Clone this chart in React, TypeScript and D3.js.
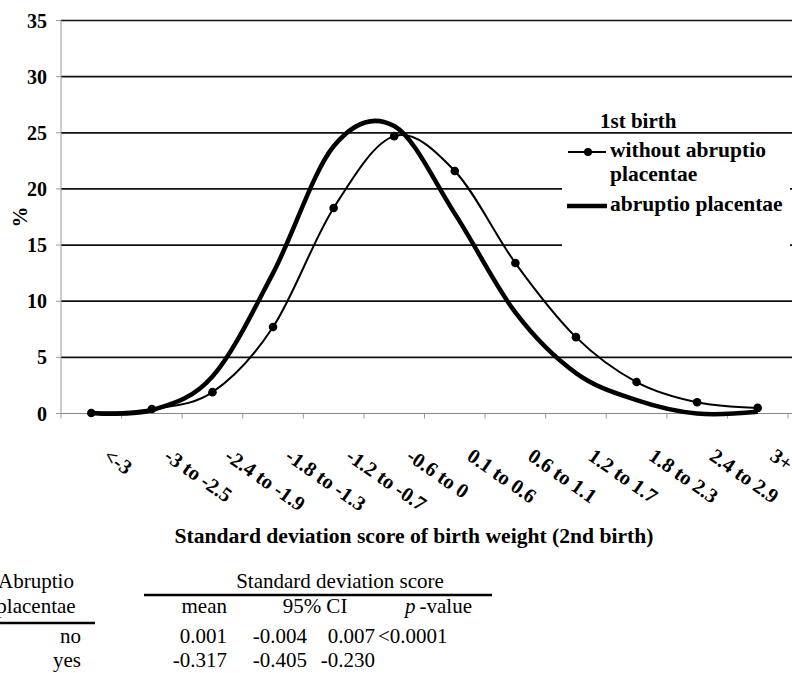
import React from "react";
import * as d3 from "d3";

const categories = ["<-3", "-3 to -2.5", "-2.4 to -1.9", "-1.8 to -1.3", "-1.2 to -0.7", "-0.6 to 0", "0.1 to 0.6", "0.6 to 1.1", "1.2 to 1.7", "1.8 to 2.3", "2.4 to 2.9", "3+"];
const withoutAP = [0.05, 0.4, 1.9, 7.7, 18.3, 24.7, 21.6, 13.4, 6.8, 2.8, 1.0, 0.5];
const withAP = [0.05, 0.3, 3.3, 12.5, 23.8, 25.6, 17.8, 9.0, 3.6, 1.2, 0.0, 0.15];
const yTicks = [0, 5, 10, 15, 20, 25, 30, 35];

const legendTitle = "1st birth";
const seriesNames = ["without abruptio", "placentae", "abruptio placentae"];
const xTitle = "Standard deviation score of birth weight (2nd birth)";

const tableHeadLeft = ["Abruptio", "placentae"];
const tableGroupTitle = "Standard deviation score";
const tableRowLabels = ["no", "yes"];
const tableMeans = ["0.001", "-0.317"];
const tableCILow = ["-0.004", "-0.405"];
const tableCIHigh = ["0.007", "-0.230"];
const tablePValues = ["<0.0001", ""];

const serif = "'Liberation Serif', 'Times New Roman', serif";

export default function App() {
  const W = 792, H = 673;
  const x = d3.scaleBand<string>().domain(categories).range([61, 788]);
  const y = d3.scaleLinear().domain([0, 35]).range([413.5, 20.5]);
  const cx = (c: string) => (x(c) as number) + x.bandwidth() / 2;
  const line = d3
    .line<number>()
    .x((_, i) => cx(categories[i]))
    .y((d) => y(d))
    .curve(d3.curveCardinal.tension(0));

  const boundaries = categories.map((c) => x(c) as number).concat([x.range()[1]]);

  return (
    <svg width={W} height={H} style={{ position: "absolute", left: 0, top: 0, background: "#fff" }} fontFamily={serif}>
      <rect x={0} y={0} width={W} height={H} fill="#fff" />
      {/* gridlines */}
      {yTicks.filter((t) => t > 0).map((t) => (
        <line key={t} x1={61} x2={W} y1={y(t)} y2={y(t)} stroke="#111" strokeWidth={1.7} />
      ))}
      {/* axes */}
      <line x1={61} x2={61} y1={y(35)} y2={y(0)} stroke="#999" strokeWidth={1} />
      <line x1={57} x2={W} y1={y(0)} y2={y(0)} stroke="#888" strokeWidth={1.2} />
      {yTicks.map((t) => (
        <line key={"yt" + t} x1={56} x2={61} y1={y(t)} y2={y(t)} stroke="#999" strokeWidth={1} />
      ))}
      {boundaries.map((b, i) => (
        <line key={"xt" + i} x1={b} x2={b} y1={y(0)} y2={y(0) + 5} stroke="#999" strokeWidth={1} />
      ))}
      {/* y tick labels */}
      {yTicks.map((t) => (
        <text key={"yl" + t} x={47} y={y(t) + 7} textAnchor="end" fontSize={20} fontWeight="bold">
          {t}
        </text>
      ))}
      <text transform="translate(27,217) rotate(-90)" textAnchor="middle" fontSize={21} fontWeight="bold">
        %
      </text>
      {/* x tick labels */}
      {categories.map((c) => (
        <text key={"xl" + c} transform={`translate(${cx(c) + 11},459) rotate(35)`} fontSize={20.5} fontWeight="bold">
          {c}
        </text>
      ))}
      <text x={414} y={543} textAnchor="middle" fontSize={21.6} fontWeight="bold">
        {xTitle}
      </text>

      {/* series */}
      <path d={line(withAP) || ""} fill="none" stroke="#000" strokeWidth={4.5} strokeLinejoin="round" />
      <path d={line(withoutAP) || ""} fill="none" stroke="#000" strokeWidth={2} />
      {withoutAP.map((v, i) => (
        <circle key={"m" + i} cx={cx(categories[i])} cy={y(v)} r={4.3} fill="#000" />
      ))}

      {/* legend */}
      <text x={600} y={128} fontSize={21} fontWeight="bold">
        {legendTitle}
      </text>
      <rect x={562} y={139} width={228} height={115} fill="#fff" />
      <line x1={568} x2={606} y1={152} y2={152} stroke="#000" strokeWidth={2} />
      <circle cx={588} cy={152} r={4} fill="#000" />
      <text x={610} y={157} fontSize={21.5} fontWeight="bold">
        {seriesNames[0]}
      </text>
      <text x={610} y={181} fontSize={21.5} fontWeight="bold">
        {seriesNames[1]}
      </text>
      <line x1={567} x2={607} y1={206} y2={206} stroke="#000" strokeWidth={4.5} />
      <text x={610} y={211} fontSize={21.5} fontWeight="bold">
        {seriesNames[2]}
      </text>

      {/* table */}
      <g fontSize={21}>
        <text x={36} y={588} textAnchor="middle">{tableHeadLeft[0]}</text>
        <text x={36} y={613} textAnchor="middle">{tableHeadLeft[1]}</text>
        <line x1={0} x2={95} y1={623} y2={623} stroke="#000" strokeWidth={2.5} />
        <text x={340} y={588} textAnchor="middle">{tableGroupTitle}</text>
        <line x1={144} x2={492} y1={595} y2={595} stroke="#000" strokeWidth={2.5} />
        <text x={227} y={613} textAnchor="end">mean</text>
        <text x={315} y={613} textAnchor="middle">95% CI</text>
        <text x={405} y={613}>
          <tspan fontStyle="italic">p</tspan>
          <tspan dx={4}>-value</tspan>
        </text>
        {tableRowLabels.map((r, i) => (
          <g key={r}>
            <text x={81} y={643 + i * 24} textAnchor="end">{r}</text>
            <text x={227} y={643 + i * 24} textAnchor="end">{tableMeans[i]}</text>
            <text x={307} y={643 + i * 24} textAnchor="end">{tableCILow[i]}</text>
            <text x={375} y={643 + i * 24} textAnchor="end">{tableCIHigh[i]}</text>
            <text x={378} y={643 + i * 24}>{tablePValues[i]}</text>
          </g>
        ))}
      </g>
    </svg>
  );
}
